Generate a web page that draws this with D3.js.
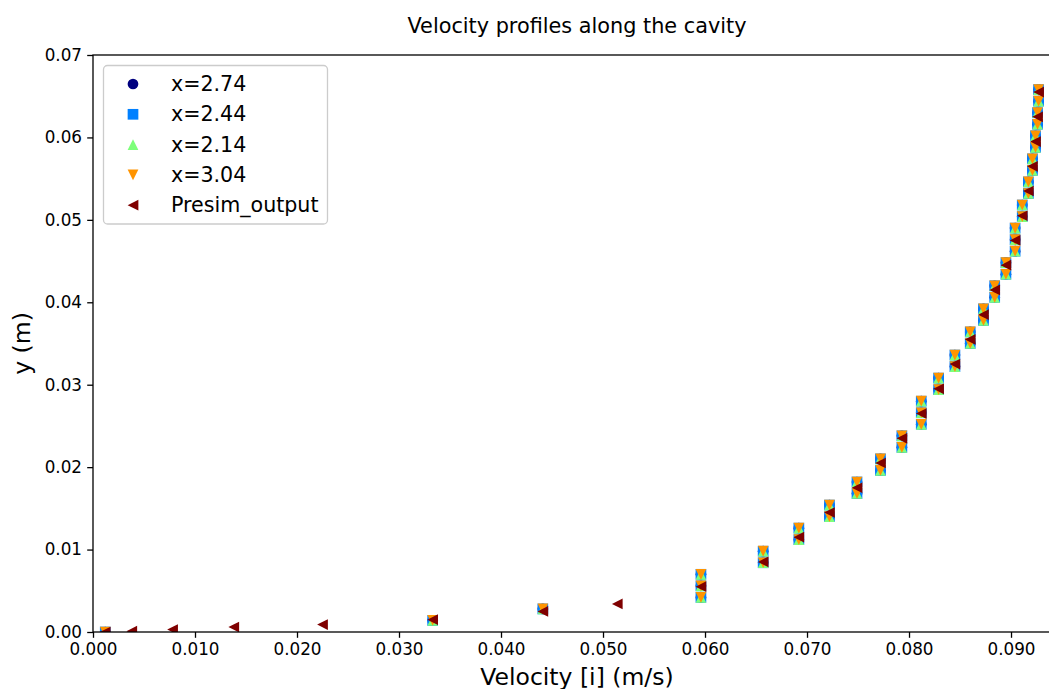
<!DOCTYPE html>
<html>
<head>
<meta charset="utf-8">
<script src="https://cdn.jsdelivr.net/npm/d3@7"></script>
<style>
  html, body { margin: 0; padding: 0; background: #fff; }
  svg { display: block; font-family: "DejaVu Sans", sans-serif; }
</style>
</head>
<body>
<svg id="chart" width="1049" height="689"></svg>
<script>
// Probe heights (m) shared by the four sampling stations
const probeY = [0.0000, 0.0014, 0.0028, 0.0042, 0.0056, 0.0070, 0.0084, 0.0098, 0.0112, 0.0126,
  0.0140, 0.0154, 0.0168, 0.0182, 0.0196, 0.0210, 0.0224, 0.0238, 0.0252, 0.0266,
  0.0280, 0.0294, 0.0308, 0.0322, 0.0336, 0.0350, 0.0364, 0.0378, 0.0392, 0.0406,
  0.0420, 0.0434, 0.0448, 0.0462, 0.0476, 0.0490, 0.0504, 0.0518, 0.0532, 0.0546,
  0.0560, 0.0574, 0.0588, 0.0602, 0.0616, 0.0630, 0.0644, 0.0658];

// Streamwise velocity (m/s) at the probe heights; the four stations coincide
const probeU = [0.0012, 0.0333, 0.0441, 0.0596, 0.0596, 0.0596, 0.0657, 0.0657, 0.0692, 0.0692,
  0.0722, 0.0722, 0.0749, 0.0749, 0.0772, 0.0772, 0.0793, 0.0793, 0.0812, 0.0812,
  0.0812, 0.0829, 0.0829, 0.0845, 0.0845, 0.0860, 0.0860, 0.0873, 0.0873, 0.0884,
  0.0884, 0.0895, 0.0895, 0.0904, 0.0904, 0.0904, 0.0911, 0.0911, 0.0917, 0.0917,
  0.0921, 0.0921, 0.0924, 0.0924, 0.0926, 0.0926, 0.0927, 0.0927];

// Presim_output profile
const presimY = [0.0000, 0.0001, 0.0003, 0.0006, 0.0009, 0.0015, 0.0025, 0.0034,
  0.0055, 0.0085, 0.0115, 0.0145, 0.0175, 0.0205, 0.0235, 0.0265, 0.0295, 0.0325,
  0.0355, 0.0385, 0.0415, 0.0445, 0.0475, 0.0505, 0.0535, 0.0565, 0.0595, 0.0625, 0.0655];
const presimU = [0.0012, 0.0038, 0.0078, 0.0138, 0.0225, 0.0333, 0.0441, 0.0514,
  0.0596, 0.0657, 0.0692, 0.0722, 0.0749, 0.0772, 0.0793, 0.0812, 0.0829, 0.0845,
  0.0860, 0.0873, 0.0884, 0.0895, 0.0904, 0.0911, 0.0917, 0.0921, 0.0924, 0.0926, 0.0927];

// Series names, in drawing order
const seriesNames = ["x=2.74", "x=2.44", "x=2.14", "x=3.04", "Presim_output"];
const seriesColors = ["#00007f", "#0080ff", "#7dff7a", "#ff9400", "#7f0000"];
const seriesShapes = ["circle", "square", "up", "down", "left"];

// Axis ticks
const xTicks = [0.00, 0.01, 0.02, 0.03, 0.04, 0.05, 0.06, 0.07, 0.08, 0.09];
const yTicks = [0.00, 0.01, 0.02, 0.03, 0.04, 0.05, 0.06, 0.07];

const svg = d3.select("#chart");
const plot = { left: 93, right: 1061, top: 55, bottom: 632 };

const x = d3.scaleLinear().domain([0, 0.0949]).range([plot.left, plot.right]);
const y = d3.scaleLinear().domain([0, 0.07]).range([plot.bottom, plot.top]);

const series = [
  { x: probeU, y: probeY },
  { x: probeU, y: probeY },
  { x: probeU, y: probeY },
  { x: probeU, y: probeY },
  { x: presimU, y: presimY }
].map((s, i) => ({
  name: seriesNames[i], color: seriesColors[i], shape: seriesShapes[i],
  points: s.x.map((u, k) => ({ u, h: s.y[k] }))
}));

const M = 10.7; // marker size in px
function markerPath(shape, s) {
  const h = s / 2;
  switch (shape) {
    case "square": return `M${-h},${-h}H${h}V${h}H${-h}Z`;
    case "up": return `M0,${-h}L${h},${h}L${-h},${h}Z`;
    case "down": return `M0,${h}L${h},${-h}L${-h},${-h}Z`;
    case "left": return `M${-h},0L${h},${-h}L${h},${h}Z`;
    default: return d3.arc()({ innerRadius: 0, outerRadius: h, startAngle: 0, endAngle: 2 * Math.PI });
  }
}

svg.append("defs").append("clipPath").attr("id", "plot-clip")
  .append("rect")
  .attr("x", plot.left).attr("y", plot.top)
  .attr("width", plot.right - plot.left).attr("height", plot.bottom - plot.top);

// Markers
const marks = svg.append("g").attr("clip-path", "url(#plot-clip)");
series.forEach(s => {
  marks.append("g").selectAll("path")
    .data(s.points)
    .join("path")
    .attr("d", markerPath(s.shape, M))
    .attr("transform", d => `translate(${x(d.u)},${y(d.h)})`)
    .attr("fill", s.color);
});

// Axes
const fmtX = d3.format(".3f"), fmtY = d3.format(".2f");
const xAxis = svg.append("g")
  .attr("transform", `translate(0,${plot.bottom})`)
  .call(d3.axisBottom(x).tickValues(xTicks).tickFormat(fmtX).tickSize(5.8).tickPadding(5.2).tickSizeOuter(0));
const yAxis = svg.append("g")
  .attr("transform", `translate(${plot.left},0)`)
  .call(d3.axisLeft(y).tickValues(yTicks).tickFormat(fmtY).tickSize(5.8).tickPadding(5.2).tickSizeOuter(0));
[xAxis, yAxis].forEach(a => {
  a.select(".domain").remove();
  a.selectAll(".tick line").attr("stroke", "#000").attr("stroke-width", 1.3);
  a.selectAll(".tick text").attr("fill", "#000").attr("font-size", 16.8)
    .attr("font-family", "DejaVu Sans, sans-serif");
});

// Frame
svg.append("rect")
  .attr("x", plot.left).attr("y", plot.top)
  .attr("width", plot.right - plot.left).attr("height", plot.bottom - plot.top)
  .attr("fill", "none").attr("stroke", "#000").attr("stroke-width", 1.3);

// Titles
const cx = (plot.left + plot.right) / 2;
svg.append("text").attr("x", cx).attr("y", 33)
  .attr("text-anchor", "middle").attr("font-size", 20.8)
  .text("Velocity profiles along the cavity");
svg.append("text").attr("x", cx).attr("y", 685)
  .attr("text-anchor", "middle").attr("font-size", 23.5)
  .text("Velocity [i] (m/s)");
svg.append("text")
  .attr("transform", `translate(30,${(plot.top + plot.bottom) / 2}) rotate(-90)`)
  .attr("text-anchor", "middle").attr("font-size", 23.5)
  .text("y (m)");

// Legend
const legend = svg.append("g");
legend.append("rect")
  .attr("x", 103.5).attr("y", 65.5).attr("width", 224).attr("height", 158.5)
  .attr("rx", 4).attr("fill", "#fff").attr("fill-opacity", 0.8)
  .attr("stroke", "#cccccc").attr("stroke-width", 1.3);
series.forEach((s, i) => {
  const ly = 84 + i * 30.3;
  legend.append("path")
    .attr("d", markerPath(s.shape, M))
    .attr("transform", `translate(133,${ly})`)
    .attr("fill", s.color);
  legend.append("text")
    .attr("x", 171).attr("y", ly + 7)
    .attr("font-size", 20.6)
    .text(s.name);
});
</script>
</body>
</html>
